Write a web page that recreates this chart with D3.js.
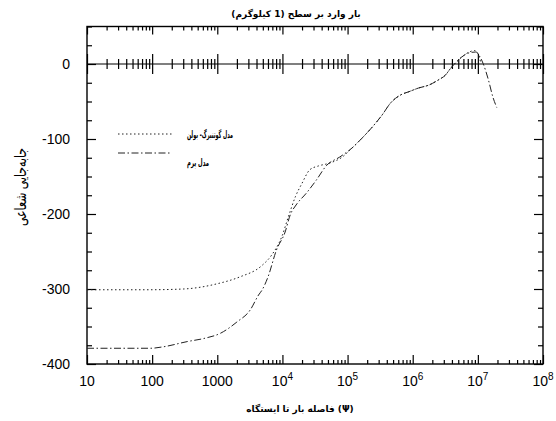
<!DOCTYPE html>
<html>
<head>
<meta charset="utf-8">
<script src="https://cdn.jsdelivr.net/npm/d3@7"></script>
<style>
  body { margin: 0; background: #fff; }
  svg { display: block; }
  .tick text { display: none; }
</style>
</head>
<body>
<div id="chart"></div>
<script>
"use strict";

// distance values (log axis) and radial displacement
var gbX = [10, 90, 300, 1000, 2200, 4800, 6800, 9800, 12300, 15800, 20000, 26300, 35500, 53700,
           83000, 117000, 166000, 240000, 339000, 457000, 661000, 871000, 1230000, 1780000,
           2500000, 3160000, 3800000, 4600000, 5600000, 7400000, 8900000, 10000000, 11000000];
var gbY = [-301, -301, -300, -293, -284, -269, -255, -230, -204, -177, -159, -141, -136, -132,
           -124, -112, -99, -84, -68, -52, -41, -37, -32, -28,
           -21, -15, -6, 2, 9, 16, 18, 14, 3];

var premX = [10, 95, 150, 350, 620, 1120, 2000, 3200, 4300, 4900, 6000, 8100, 11000, 13200, 16200,
             23400, 33000, 47900, 75900, 117000, 166000, 240000, 339000, 457000, 661000, 871000,
             1230000, 1780000, 2500000, 3160000, 3800000, 4600000, 5600000, 7400000, 9300000,
             10700000, 12000000, 14500000, 17000000, 19500000];
var premY = [-379, -379, -377, -370, -366, -359, -344, -328, -308, -301, -284, -248, -224, -201, -188,
             -172, -155, -135, -124, -112, -99, -84, -68, -52, -41, -37,
             -32, -28, -21, -15, -6, 2, 9, 15, 16,
             10, 1, -21, -44, -58];

var xMajor = [10, 100, 1000, 1e4, 1e5, 1e6, 1e7, 1e8];
var xLabels = [["10", ""], ["100", ""], ["1000", ""], ["10", "4"], ["10", "5"], ["10", "6"], ["10", "7"], ["10", "8"]];
var yMajor = [0, -100, -200, -300, -400];
var yLabels = ["0", "-100", "-200", "-300", "-400"];
var yMinor = [50, 25, -25, -50, -75, -125, -150, -175, -225, -250, -275, -325, -350, -375];

var titleText = "بار وارد بر سطح (1 کیلوگرم)";
var xTitle = "فاصله بار تا ایستگاه (Ψ)";
var yTitle = "جابه‌جایی شعاعی";
var legendNames = ["مدل گوتنبرگ- بولن", "مدل پرم"];

var W = 556, H = 421;
var margin = {top: 26.5, right: 13, bottom: 57, left: 87};
var width = W - margin.left - margin.right;
var height = H - margin.top - margin.bottom;

var x = d3.scaleLog().domain([10, 1e8]).range([0, width]);
var y = d3.scaleLinear().domain([-400, 50]).range([height, 0]);

var xMinor = [];
for (var e = 1; e < 8; e++) {
  for (var m = 2; m <= 9; m++) xMinor.push(m * Math.pow(10, e));
}

var svg = d3.select("#chart").append("svg")
    .attr("width", W).attr("height", H)
  .append("g")
    .attr("transform", "translate(" + margin.left + "," + margin.top + ")");

function tickAxis(axis, vals, size) {
  return axis.tickValues(vals).tickSize(size).tickFormat("");
}

function styleAxis(g) {
  g.select(".domain").remove();
  g.selectAll("line").attr("stroke", "#000").attr("stroke-width", 1.2);
}

// bottom axis, inward ticks
svg.append("g").attr("transform", "translate(0," + height + ")")
  .call(tickAxis(d3.axisBottom(x), xMajor, -9)).call(styleAxis);
svg.append("g").attr("transform", "translate(0," + height + ")")
  .call(tickAxis(d3.axisBottom(x), xMinor, -4)).call(styleAxis);
// top axis
svg.append("g")
  .call(tickAxis(d3.axisTop(x), xMajor, -8)).call(styleAxis);
svg.append("g")
  .call(tickAxis(d3.axisTop(x), xMinor, -4)).call(styleAxis);
// zero line with crossing ticks
svg.append("line")
  .attr("x1", 0).attr("x2", width).attr("y1", y(0)).attr("y2", y(0))
  .attr("stroke", "#000").attr("stroke-width", 1.2);
[1, -1].forEach(function(s) {
  svg.append("g").attr("transform", "translate(0," + y(0) + ")")
    .call(tickAxis(d3.axisBottom(x), xMajor, 10 * s)).call(styleAxis);
  svg.append("g").attr("transform", "translate(0," + y(0) + ")")
    .call(tickAxis(d3.axisBottom(x), xMinor, 5 * s)).call(styleAxis);
});
// left and right axes
svg.append("g").call(tickAxis(d3.axisLeft(y), yMajor, -9)).call(styleAxis);
svg.append("g").call(tickAxis(d3.axisLeft(y), yMinor, -5)).call(styleAxis);
svg.append("g").attr("transform", "translate(" + width + ",0)")
  .call(tickAxis(d3.axisRight(y), yMajor, -9)).call(styleAxis);
svg.append("g").attr("transform", "translate(" + width + ",0)")
  .call(tickAxis(d3.axisRight(y), yMinor, -5)).call(styleAxis);

// frame
svg.append("rect")
  .attr("width", width).attr("height", height)
  .attr("fill", "none").attr("stroke", "#000").attr("stroke-width", 1.4);

// tick labels
svg.selectAll(".ylab").data(yMajor).enter().append("text")
  .attr("x", -17).attr("y", function(d) { return y(d); })
  .attr("dy", "0.36em")
  .attr("text-anchor", "end")
  .style("font", "14px 'Liberation Sans', Arial, sans-serif")
  .text(function(d, i) { return yLabels[i]; });

var xl = svg.selectAll(".xlab").data(xMajor).enter().append("text")
  .attr("x", function(d) { return x(d); }).attr("y", height + 22)
  .attr("text-anchor", "middle")
  .style("font", "14px 'Liberation Sans', Arial, sans-serif");
xl.append("tspan").text(function(d, i) { return xLabels[i][0]; });
xl.append("tspan").attr("dy", -6).style("font-size", "10px")
  .text(function(d, i) { return xLabels[i][1]; });

// curves
var line = d3.line()
  .x(function(d) { return x(d[0]); })
  .y(function(d) { return y(d[1]); })
  .curve(d3.curveMonotoneX);

var gbData = gbX.map(function(v, i) { return [v, gbY[i]]; });
var premData = premX.map(function(v, i) { return [v, premY[i]]; });

svg.append("path").attr("d", line(gbData))
  .attr("fill", "none").attr("stroke", "#222").attr("stroke-width", 1)
  .attr("stroke-dasharray", "1.5,2.5");
svg.append("path").attr("d", line(premData))
  .attr("fill", "none").attr("stroke", "#222").attr("stroke-width", 1)
  .attr("stroke-dasharray", "7,2.5,1.5,2.5");

// legend
var leg = [{dash: "1.5,2.5", ly: 134, ty: 134, len: 46}, {dash: "7,2.5,1.5,2.5", ly: 153, ty: 162, len: 22}];
leg.forEach(function(l, i) {
  svg.append("line")
    .attr("x1", 118 - margin.left).attr("x2", 172 - margin.left)
    .attr("y1", l.ly - margin.top).attr("y2", l.ly - margin.top)
    .attr("stroke", "#222").attr("stroke-dasharray", l.dash);
  svg.append("text")
    .attr("x", 187 - margin.left).attr("y", l.ty - margin.top)
    .attr("dy", "0.35em")
    .attr("textLength", l.len).attr("lengthAdjust", "spacingAndGlyphs")
    .style("font", "bold 10px 'DejaVu Sans', sans-serif")
    .text(legendNames[i]);
});

// titles
svg.append("text")
  .attr("x", 296 - margin.left).attr("y", 14 - margin.top).attr("dy", "0.35em")
  .attr("text-anchor", "middle")
  .style("font", "bold 9px 'DejaVu Sans', sans-serif")
  .text(titleText);
svg.append("text")
  .attr("x", 300 - margin.left).attr("y", 409 - margin.top).attr("dy", "0.35em")
  .attr("text-anchor", "middle")
  .style("font", "bold 9px 'DejaVu Sans', sans-serif")
  .text(xTitle);
svg.append("text")
  .attr("transform", "translate(" + (20 - margin.left) + "," + (187 - margin.top) + ") rotate(-90)")
  .attr("dy", "0.35em")
  .attr("text-anchor", "middle")
  .attr("textLength", 78).attr("lengthAdjust", "spacingAndGlyphs")
  .style("font", "16px 'DejaVu Sans', sans-serif")
  .text(yTitle);
</script>
</body>
</html>
